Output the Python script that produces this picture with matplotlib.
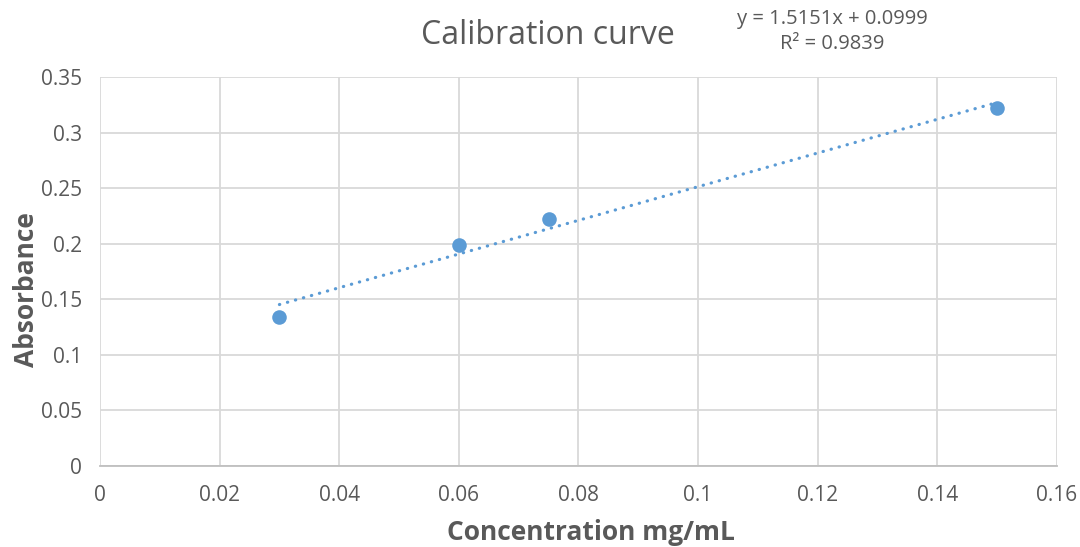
import numpy as np
import matplotlib
matplotlib.use("Agg")
import matplotlib.pyplot as plt

plt.rcParams['font.family'] = ['Open Sans', 'DejaVu Sans']

# data
conc = [0.03, 0.06, 0.075, 0.15]
absorb = [0.134, 0.199, 0.222, 0.322]
slope = 1.5151
intercept = 0.0999
r2 = 0.9839

xticks = [0, 0.02, 0.04, 0.06, 0.08, 0.1, 0.12, 0.14, 0.16]
yticks = [0, 0.05, 0.1, 0.15, 0.2, 0.25, 0.3, 0.35]

grey = '#595959'
blue = '#5b9bd5'

fig = plt.figure(figsize=(10.8, 5.47), dpi=100)
ax = fig.add_axes([0.0926, 0.148, 0.886, 0.711])

ax.set_xlim(0, 0.16)
ax.set_ylim(0, 0.35)
ax.set_xticks(xticks)
ax.set_yticks(yticks)
ax.set_xticklabels([('%g' % t) for t in xticks])
ax.set_yticklabels([('%g' % t) for t in yticks])
ax.grid(True, color='#d9d9d9', linewidth=1.3)
ax.set_axisbelow(True)
for s in ['top', 'right', 'left']:
    ax.spines[s].set_visible(False)
ax.spines['bottom'].set_color('#bfbfbf')
ax.spines['bottom'].set_linewidth(1.3)
ax.tick_params(length=0, labelsize=15, colors=grey)
ax.tick_params(axis='x', pad=14)
ax.tick_params(axis='y', pad=13)

# trendline
xs = np.array([min(conc), max(conc)])
ax.plot(xs, slope * xs + intercept, color=blue, linewidth=2.3,
        linestyle=(0, (0.1, 2.5)), dash_capstyle='round', zorder=2)
ax.scatter(conc, absorb, s=110, color=blue, zorder=3, linewidths=0)

ax.set_xlabel('Concentration mg/mL', fontsize=19, fontweight='bold', color=grey, va='center')
ax.set_ylabel('Absorbance', fontsize=19, fontweight='bold', color=grey, va='center')
ax.xaxis.set_label_coords(0.513, -0.17)
ax.yaxis.set_label_coords(-0.077, 0.455)

fig.text(0.507, 0.935, 'Calibration curve', fontsize=23, color=grey, ha='center', va='center')
fig.text(0.771, 0.942, 'y = %.4fx + %.4f\nR² = %.4f' % (slope, intercept, r2),
         fontsize=14.5, color=grey, ha='center', va='center', linespacing=1.35)

fig.savefig('out.png', dpi=100)
